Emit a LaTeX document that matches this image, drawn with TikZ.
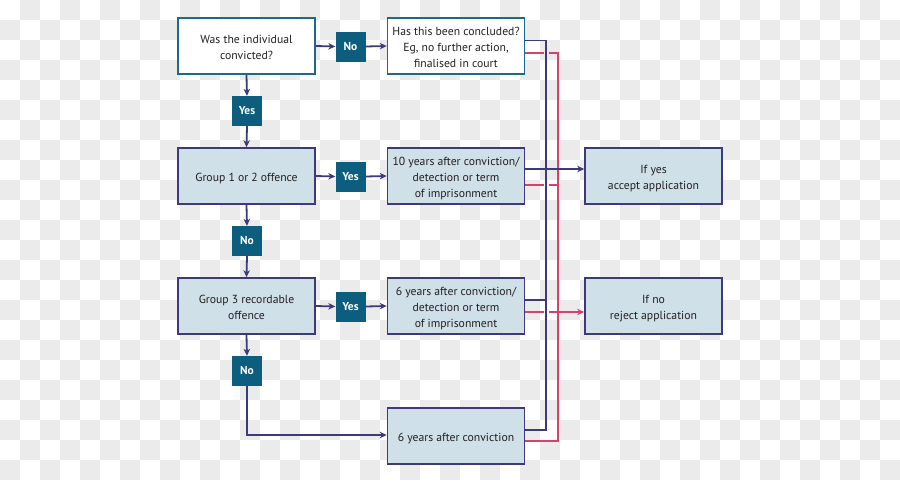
\documentclass[tikz,border=0pt]{standalone}
\usepackage{fontspec}
\setmainfont{PT Sans}
\usetikzlibrary{arrows.meta}
\definecolor{navyc}{HTML}{3C3A78}
\definecolor{tealc}{HTML}{1C6A89}
\definecolor{darkteal}{HTML}{0D5E7E}
\definecolor{lightblue}{HTML}{CFE0E8}
\definecolor{redc}{HTML}{D6436A}
\definecolor{checkgray}{HTML}{EBEBEB}
\definecolor{txt}{HTML}{231F20}
\newcommand{\boxlines}[1]{\raisebox{-2.5pt}[\height][\depth]{\begin{tabular}{@{}c@{}}#1\end{tabular}}}
\tikzset{
  qbox/.style={draw=tealc, line width=1.6pt, fill=white, minimum width=137pt, minimum height=56pt, align=center, font=\fontsize{11.7}{16}\selectfont, text=txt, inner sep=2pt},
  abox/.style={draw=navyc, line width=1.6pt, fill=lightblue, minimum width=137pt, minimum height=56pt, align=center, font=\fontsize{11.7}{16}\selectfont, text=txt, inner sep=2pt},
  tag/.style={fill=darkteal, minimum width=30pt, minimum height=30pt, inner sep=0pt, text=white, font=\fontsize{11.5}{14}\selectfont\bfseries},
  nav/.style={draw=navyc, line width=1.8pt},
  redl/.style={draw=redc, line width=1.8pt},
  arr/.style={-{Stealth[length=7pt,width=6.5pt]}},
}
\begin{document}
\begin{tikzpicture}[x=1pt,y=-1pt]
\useasboundingbox (0,0) rectangle (900,480);
\fill[white] (0,0) rectangle (900,480);
\foreach \i in {0,2,...,44} \foreach \j in {1,3,...,23} \fill[checkgray] (20*\i,20*\j) rectangle ++(20,20);
\foreach \i in {1,3,...,43} \foreach \j in {0,2,...,22} \fill[checkgray] (20*\i,20*\j) rectangle ++(20,20);

% nodes
\node[qbox] (box1) at (246.5,46) {\boxlines{Was the individual\\convicted?}};
\node[tag] (no1) at (350.5,46.5) {No};
\node[qbox] (box2) at (456,46) {\boxlines{Has this been concluded?\\Eg, no further action,\\finalised in court}};
\node[tag] (yes1) at (247,111) {Yes};
\node[abox] (box3) at (246.5,176) {\boxlines{Group 1 or 2 offence}};
\node[tag] (yes2) at (350.5,176.5) {Yes};
\node[abox] (box4) at (456,176) {\boxlines{10 years after conviction/\\detection or term\\of imprisonment}};
\node[abox] (acc) at (653.5,176) {\boxlines{If yes\\accept application}};
\node[tag] (no2) at (247,241) {No};
\node[abox] (box5) at (246.5,306) {\boxlines{Group 3 recordable\\offence}};
\node[tag] (yes3) at (350.5,306.5) {Yes};
\node[abox] (box6) at (456,306) {\boxlines{6 years after conviction/\\detection or term\\of imprisonment}};
\node[abox] (rej) at (653.5,306) {\boxlines{If no\\reject application}};
\node[tag] (no3) at (247,371) {No};
\node[abox] (box7) at (456,436) {\boxlines{6 years after conviction}};

% left flow
\draw[nav,arr] (box1.east) -- (no1.west);
\draw[nav,arr] (no1.east) -- (box2.west);
\draw[nav,arr] (box1.south) -- (yes1.north);
\draw[nav,arr] (yes1.south) -- (box3.north);
\draw[nav,arr] (box3.east) -- (yes2.west);
\draw[nav,arr] (yes2.east) -- (box4.west);
\draw[nav,arr] (box3.south) -- (no2.north);
\draw[nav,arr] (no2.south) -- (box5.north);
\draw[nav,arr] (box5.east) -- (yes3.west);
\draw[nav,arr] (yes3.east) -- (box6.west);
\draw[nav,arr] (box5.south) -- (no3.north);
\draw[nav,arr] (no3.south) |- ([yshift=1pt]box7.west);

% red rail
\draw[redl] ([yshift=-6.7pt]box2.east) -- (543.5,52.7);
\draw[redl] (548.5,52.7) -| (558,441) -- ([yshift=-5pt]box7.east);
\draw[redl] ([yshift=-9pt]box4.east) -- (543.5,185);
\draw[redl] (548.5,185) -- (558,185);
\draw[redl] ([yshift=-6pt]box6.east) -- (543.5,312);
\draw[redl,arr] (548.5,312) -- ([yshift=-6pt]rej.west);

% navy rail
\draw[nav] ([yshift=5.5pt]box2.east) -| (546,430) -- ([yshift=6pt]box7.east);
\draw[nav,arr] ([yshift=7pt]box4.east) -- ([yshift=7pt]acc.west);
\draw[nav] ([yshift=6pt]box6.east) -- (546,300);
\end{tikzpicture}
\end{document}
